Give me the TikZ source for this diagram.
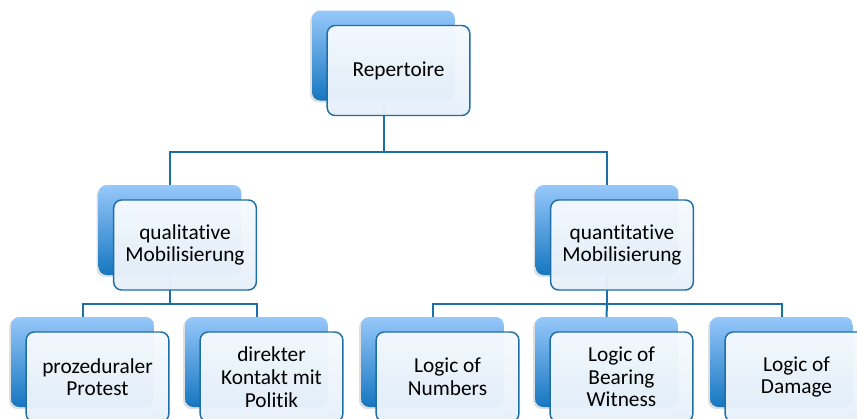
\documentclass[tikz,border=0pt]{standalone}
\usepackage{fontspec}
\setmainfont{Carlito}[Ligatures=NoCommon]
\usetikzlibrary{shadows}
\definecolor{boxtop}{RGB}{150,200,250}
\definecolor{boxbottom}{RGB}{22,118,192}
\definecolor{facetop}{RGB}{246,250,254}
\definecolor{facebottom}{RGB}{230,240,250}
\definecolor{edgeblue}{RGB}{30,110,168}
\begin{document}
\begin{tikzpicture}[x=0.75pt,y=0.75pt,yscale=-1,xscale=1,
  backbox/.style={rectangle, rounded corners=6pt, minimum width=107pt, minimum height=67.5pt, inner sep=0pt, outer sep=0pt, top color=boxtop, bottom color=boxbottom, draw=none, drop shadow={opacity=0.25, shadow xshift=-1.5pt, shadow yshift=-1.5pt}},
  frontbox/.style={rectangle, rounded corners=6pt, minimum width=107pt, minimum height=67.5pt, inner sep=0pt, top color=facetop, bottom color=facebottom, fill opacity=0.97, text opacity=1, draw=edgeblue, line width=1.1pt, align=center, font=\fontsize{16}{17}\selectfont},
  link/.style={draw=edgeblue, line width=1.5pt}]
  \useasboundingbox (0,0) rectangle (857,418);
  %Shapes: back boxes
  \node [backbox] (rep-b) at (383.5,55.5) {};
  \node [backbox] (qual-b) at (170,230) {};
  \node [backbox] (quant-b) at (607,230) {};
  \node [backbox] (proz-b) at (82.5,362) {};
  \node [backbox] (dir-b) at (256.5,362) {};
  \node [backbox] (num-b) at (432.5,362) {};
  \node [backbox] (wit-b) at (606.5,362) {};
  \node [backbox] (dam-b) at (781.5,362) {};
  %Bus points
  \coordinate (bus0) at (383.5,152);
  \coordinate (bus1) at (170,304);
  \coordinate (bus2) at (607,304);
  %Straight Lines
  \draw [link] (rep-b.south) -- (bus0);
  \draw [link] (qual-b.north) |- (bus0) -| (quant-b.north);
  \draw [link] (qual-b.south) -- (bus1);
  \draw [link] (proz-b.north) |- (bus1) -| (dir-b.north);
  \draw [link] (quant-b.south) -- (bus2);
  \draw [link] (num-b.north) |- (bus2) -| (dam-b.north);
  \draw [link] (bus2) -- (wit-b.north);
  % Text Nodes
  \node [frontbox] (rep) at (398.5,70.5) {Repertoire};
  \node [frontbox] (qual) at (185,245) {qualitative\\Mobilisierung};
  \node [frontbox] (quant) at (622,245) {quantitative\\Mobilisierung};
  \node [frontbox] (proz) at (97.5,377) {prozeduraler\\Protest};
  \node [frontbox] (dir) at (271.5,377) {direkter\\Kontakt mit\\Politik};
  \node [frontbox] (num) at (447.5,377) {Logic of\\Numbers};
  \node [frontbox] (wit) at (621.5,377) {Logic of\\Bearing\\Witness};
  \node [frontbox] (dam) at (796.5,377) {Logic of\\Damage};
\end{tikzpicture}
\end{document}
